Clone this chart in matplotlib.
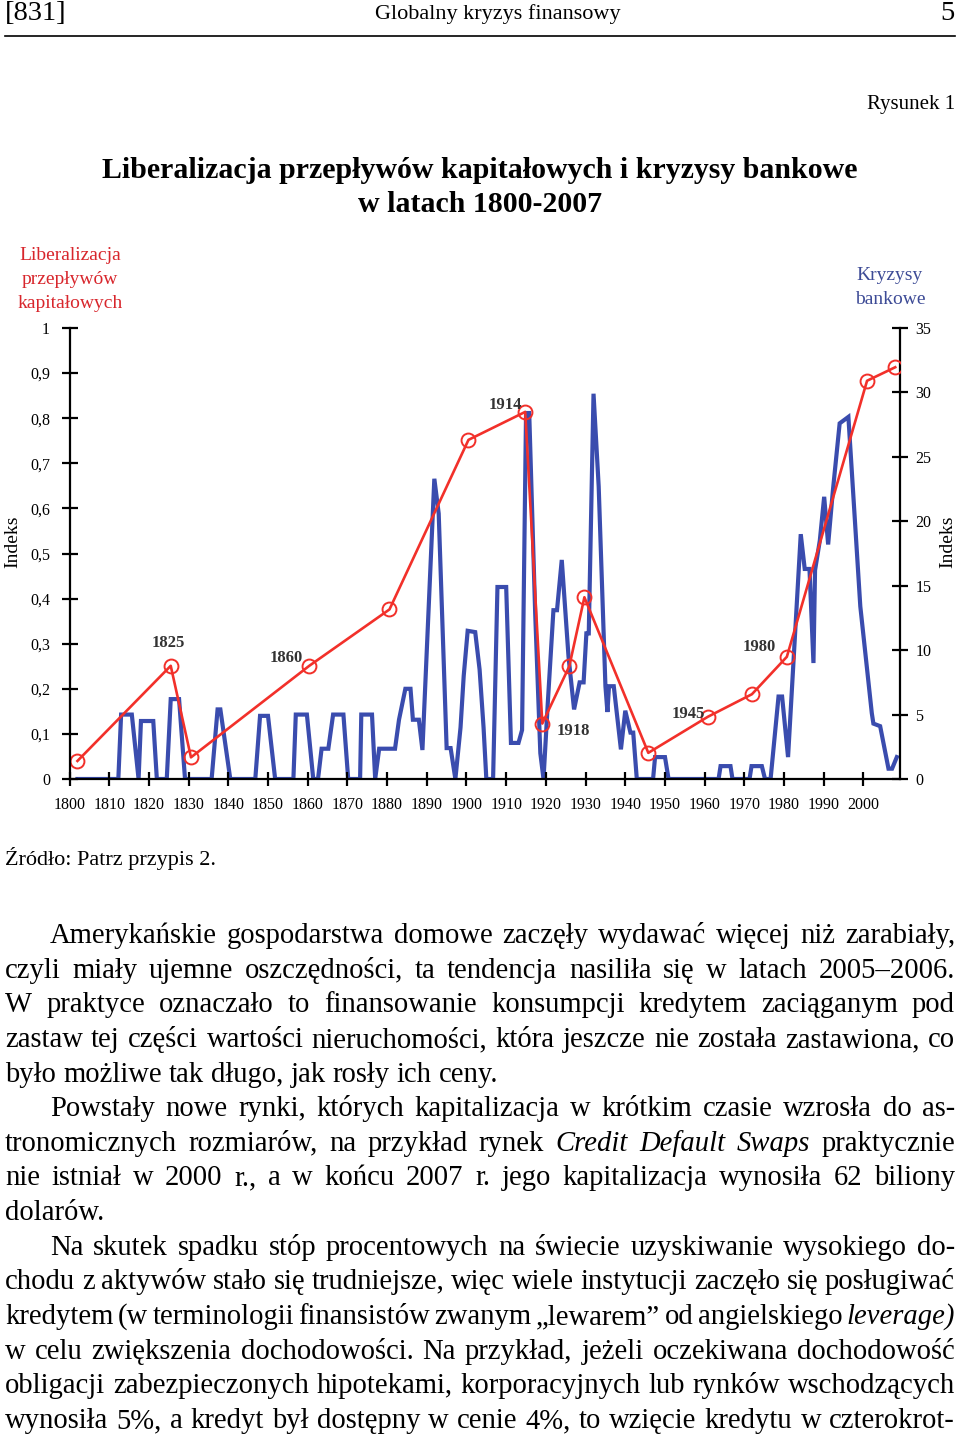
import matplotlib
matplotlib.use("Agg")
import matplotlib.pyplot as plt
import numpy as np

# --- data ---
# capital flow liberalisation index (left axis, 0..1)
lib_years = [1802, 1825.5, 1830.6, 1860.4, 1880.6, 1900.5, 1914.8, 1919.1, 1925.9,
             1929.7, 1945.8, 1960.8, 1971.9, 1980.7, 2000.9, 2008]
lib_vals = [0.04, 0.251, 0.048, 0.251, 0.376, 0.752, 0.814, 0.123, 0.25,
            0.403, 0.058, 0.138, 0.188, 0.271, 0.883, 0.913]

# banking crises (right axis, 0..35)
bank_years = [1802, 1812.3, 1813, 1815.7, 1817.4, 1818, 1821.1, 1822, 1824.5, 1825.5, 1827.6, 1829.1,
              1835.8, 1837.3, 1838, 1840.5, 1846.8, 1848, 1850, 1851.8, 1856.4, 1857, 1859.8, 1861.4,
              1862.6, 1863.5, 1865.2, 1866.4, 1869, 1870.2, 1873.2, 1873.5, 1876.2, 1877, 1878, 1882,
              1883, 1884.6, 1885.9, 1886.5, 1888, 1888.9, 1891.9, 1893, 1895, 1896, 1897.2, 1898.5,
              1899.3, 1900.3, 1902.2, 1903.3, 1904.3, 1905, 1906.7, 1907.8, 1910, 1911.2, 1913.1, 1914,
              1915, 1915.8, 1917.3, 1918.6, 1919.4, 1920.5, 1921.9, 1922.8, 1924, 1925.7, 1927.1, 1928.5,
              1929.5, 1930.2, 1930.8, 1932, 1933.3, 1935, 1935.5, 1935.9, 1937.1, 1938.9, 1940, 1941.3,
              1942, 1942.9, 1947, 1947.5, 1950, 1950.9, 1963.5, 1964, 1966.5, 1967, 1971.3, 1971.8,
              1974.4, 1975.2, 1976.6, 1978.6, 1979.5, 1981, 1984.2, 1985.2, 1986.4, 1987.4, 1987.8, 1989,
              1990.1, 1991.1, 1992.3, 1994, 1996.2, 1999.2, 2002.1, 2002.5, 2004.2, 2006.3, 2007.2, 2008.4]
bank_vals = [0, 0, 5.0, 5.0, 0, 4.5, 4.5, 0, 0, 6.2, 6.2, 0,
             0, 5.4, 5.4, 0, 0, 4.9, 4.9, 0, 0, 5.0, 5.0, 0,
             0, 2.35, 2.35, 5.0, 5.0, 0, 0, 5.0, 5.0, 0, 2.35, 2.35,
             4.6, 7.0, 7.0, 4.6, 4.6, 2.25, 23.3, 20.6, 2.4, 2.4, 0, 4,
             8, 11.5, 11.4, 8.5, 4, 0, 0, 14.9, 14.9, 2.8, 2.8, 3.8,
             28.4, 28.4, 12.9, 2, 0, 6, 13.1, 13.1, 17.0, 9.5, 5.4, 7.5,
             7.5, 11.3, 11.3, 29.9, 22.7, 7.2, 5.2, 7.2, 7.2, 2.3, 5.3, 3.6,
             3.6, 0, 0, 1.7, 1.7, 0, 0, 1.0, 1.0, 0, 0, 1.0,
             1.0, 0, 0, 6.4, 6.4, 1.7, 19.0, 16.3, 16.3, 9.0, 16.2, 18.5,
             21.9, 18.2, 22.4, 27.6, 28.1, 13.4, 5.1, 4.3, 4.1, 0.8, 0.8, 1.7]

left_ticks = [0, 0.1, 0.2, 0.3, 0.4, 0.5, 0.6, 0.7, 0.8, 0.9, 1]
left_labels = ["0", "0,1", "0,2", "0,3", "0,4", "0,5", "0,6", "0,7", "0,8", "0,9", "1"]
right_ticks = [0, 5, 10, 15, 20, 25, 30, 35]
x_ticks = list(range(1800, 2001, 10))

marks = [("1825", 1824.8, 0.302), ("1860", 1854.7, 0.268), ("1914", 1909.7, 0.829),
         ("1918", 1926.9, 0.106), ("1945", 1955.9, 0.144), ("1980", 1973.8, 0.292)]

body = [
    ("Amerykańskie gospodarstwa domowe zaczęły wydawać więcej niż zarabiały,", True, False),
    ("czyli miały ujemne oszczędności, ta tendencja nasiliła się w latach 2005–2006.", False, False),
    ("W praktyce oznaczało to finansowanie konsumpcji kredytem zaciąganym pod", False, False),
    ("zastaw tej części wartości nieruchomości, która jeszcze nie została zastawiona, co", False, False),
    ("było możliwe tak długo, jak rosły ich ceny.", False, True),
    ("Powstały nowe rynki, których kapitalizacja w krótkim czasie wzrosła do as-", True, False),
    ("tronomicznych rozmiarów, na przykład rynek *Credit Default Swaps* praktycznie", False, False),
    ("nie istniał w 2000 r., a w końcu 2007 r. jego kapitalizacja wynosiła 62 biliony", False, False),
    ("dolarów.", False, True),
    ("Na skutek spadku stóp procentowych na świecie uzyskiwanie wysokiego do-", True, False),
    ("chodu z aktywów stało się trudniejsze, więc wiele instytucji zaczęło się posługiwać", False, False),
    ("kredytem (w terminologii finansistów zwanym „lewarem” od angielskiego *leverage*)", False, False),
    ("w celu zwiększenia dochodowości. Na przykład, jeżeli oczekiwana dochodowość", False, False),
    ("obligacji zabezpieczonych hipotekami, korporacyjnych lub rynków wschodzących", False, False),
    ("wynosiła 5%, a kredyt był dostępny w cenie 4%, to wzięcie kredytu w czterokrot-", False, False),
]

W, H = 960, 1435
serif = "Liberation Serif"
plt.rcParams["font.family"] = serif

fig = plt.figure(figsize=(9.6, 14.35), dpi=100)
fig.patch.set_facecolor("white")

def fx(px):
    return px / W

def fy(py):
    return 1 - py / H

# header
fig.text(fx(5), fy(14), "[831]", fontsize=20.5, ha="left", va="center")
fig.text(fx(498), fy(14), "Globalny kryzys finansowy", fontsize=16, ha="center", va="center")
fig.text(fx(955), fy(14), "5", fontsize=20.5, ha="right", va="center")
fig.add_artist(plt.Line2D([fx(5), fx(955)], [fy(36), fy(36)], color="black", lw=1.2))

fig.text(fx(955), fy(104), "Rysunek 1", fontsize=15, ha="right", va="center")
fig.text(fx(480), fy(171), "Liberalizacja przepływów kapitałowych i kryzysy bankowe",
         fontsize=21.5, fontweight="bold", ha="center", va="center")
fig.text(fx(480), fy(205), "w latach 1800-2007", fontsize=21.5, fontweight="bold",
         ha="center", va="center")

red_txt = "#d8262c"
blue_txt = "#3d4b96"
for i, s in enumerate(["Liberalizacja", "przepływów", "kapitałowych"]):
    fig.text(fx(70), fy(256 + i * 24), s, fontsize=14, color=red_txt, ha="center", va="center")
for i, s in enumerate(["Kryzysy", "bankowe"]):
    fig.text(fx(890), fy(275 + i * 24), s, fontsize=14, color=blue_txt, ha="center", va="center")

fig.text(fx(13), fy(542), "Indeks", fontsize=14, rotation=90, ha="center", va="center")
fig.text(fx(948), fy(542), "Indeks", fontsize=14, rotation=90, ha="center", va="center")

# chart
ax = fig.add_axes([fx(69.5), fy(779), (900 - 69.5) / W, (779 - 328) / H])
ax2 = ax.twinx()

ax2.plot(bank_years, bank_vals, color="#3a4cae", lw=3.0, solid_joinstyle="miter")
ax.plot(lib_years, lib_vals, color="#f2302a", lw=1.9, marker="o", ms=10,
        mfc="none", mec="#f2302a", mew=1.4)

ax.set_zorder(ax2.get_zorder() + 1)
ax.patch.set_visible(False)

ax.set_xlim(1800, 2009.2)
ax.set_ylim(0, 1)
ax2.set_ylim(0, 35)

for a in (ax, ax2):
    a.spines["top"].set_visible(False)
    for sp in ("left", "right", "bottom"):
        a.spines[sp].set_linewidth(1.6)

ax.spines["right"].set_visible(False)
ax2.spines["left"].set_visible(False)
ax2.spines["bottom"].set_visible(False)

ax.set_xticks(x_ticks)
ax.set_xticklabels([str(t) for t in x_ticks])
ax.set_yticks(left_ticks)
ax.set_yticklabels(left_labels)
ax2.set_yticks(right_ticks)
ax2.set_yticklabels([str(t) for t in right_ticks])

ax.tick_params(axis="x", direction="inout", length=10, width=1.6, pad=8, labelsize=11.5)
ax.tick_params(axis="y", direction="inout", length=12, width=1.6, pad=8, labelsize=11.5)
ax2.tick_params(axis="y", direction="inout", length=12, width=1.6, pad=5, labelsize=11.5)

for s, yr, v in marks:
    ax.text(yr, v, s, fontsize=12, fontweight="bold", color="#333333", ha="center", va="center")

fig.text(fx(5), fy(858), "Źródło: Patrz przypis 2.", fontsize=16, ha="left", va="center")

# justified body text
r = fig.canvas.get_renderer()
bs = 20.6

def measure(s, style):
    t = fig.text(0, 0, s, fontsize=bs, style=style)
    w = t.get_window_extent(renderer=r).width
    t.remove()
    return w

space = measure("a a", "normal") - measure("aa", "normal")

for i, (line, indent, last) in enumerate(body):
    words = line.split(" ")
    items = []
    ital = False
    for w in words:
        st = ital
        if w.startswith("*"):
            st = True
            w = w[1:]
            ital = True
        if w.endswith("*") or w.endswith("*)"):
            w = w.replace("*", "")
            ital = False
        items.append((w, "italic" if st else "normal"))
    widths = [measure(w, st) for w, st in items]
    x0 = 50 if indent else 5
    x1 = 955
    if last or len(items) < 2:
        gap = space
    else:
        gap = (x1 - x0 - sum(widths)) / (len(items) - 1)
    base = 943 + i * 34.64
    x = x0
    for (w, st), wd in zip(items, widths):
        fig.text(fx(x), fy(base), w, fontsize=bs, style=st, ha="left", va="baseline")
        x += wd + gap

fig.savefig("out.png", dpi=100, facecolor="white")
